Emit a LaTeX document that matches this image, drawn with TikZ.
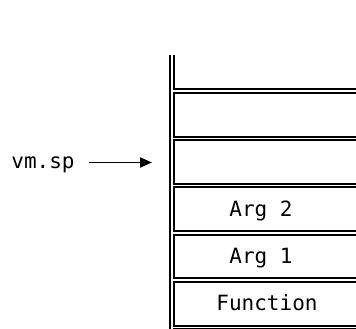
\documentclass[tikz,border=0pt]{standalone}
\usepackage{fontspec}
\setmonofont{DejaVu Sans Mono}
\usetikzlibrary{arrows.meta}

\begin{document}
\begin{tikzpicture}[x=1pt,y=-1pt,
    wall/.style={draw=black,double=white,line width=2pt,double distance=1.6pt},
    lbl/.style={font=\ttfamily\fontsize{21}{24}\selectfont,inner sep=0pt,anchor=base},
    ptr/.style={-{Triangle[length=12pt,width=10pt]},line width=1.9pt}]
    \useasboundingbox (0,0) rectangle (356,329);
    \clip (0,0) rectangle (356,329);
    % stack wall and slot separators
    \draw[wall] (171.7,55) -- (171.7,340);
    \foreach \y in {91,138.3,185.6,232.9,280.2,327.5}
      \draw[wall] (172.5,\y) -- (362,\y);
    % slot contents
    \foreach \x/\y/\t/\k in {264/121.6//0,264/168.9//1,261/216.2/Arg 2/2,261/263.5/Arg 1/3,267/310.8/Function/4}
      \node[lbl] (slot\k) at (\x,\y) {\t};
    % stack pointer
    \node[lbl] (sp) at (43,168) {vm.sp};
    \coordinate (tip) at (152,162.5);
    \draw[ptr,shorten <=14pt] (sp.east |- tip) -- (tip);
\end{tikzpicture}
\end{document}
